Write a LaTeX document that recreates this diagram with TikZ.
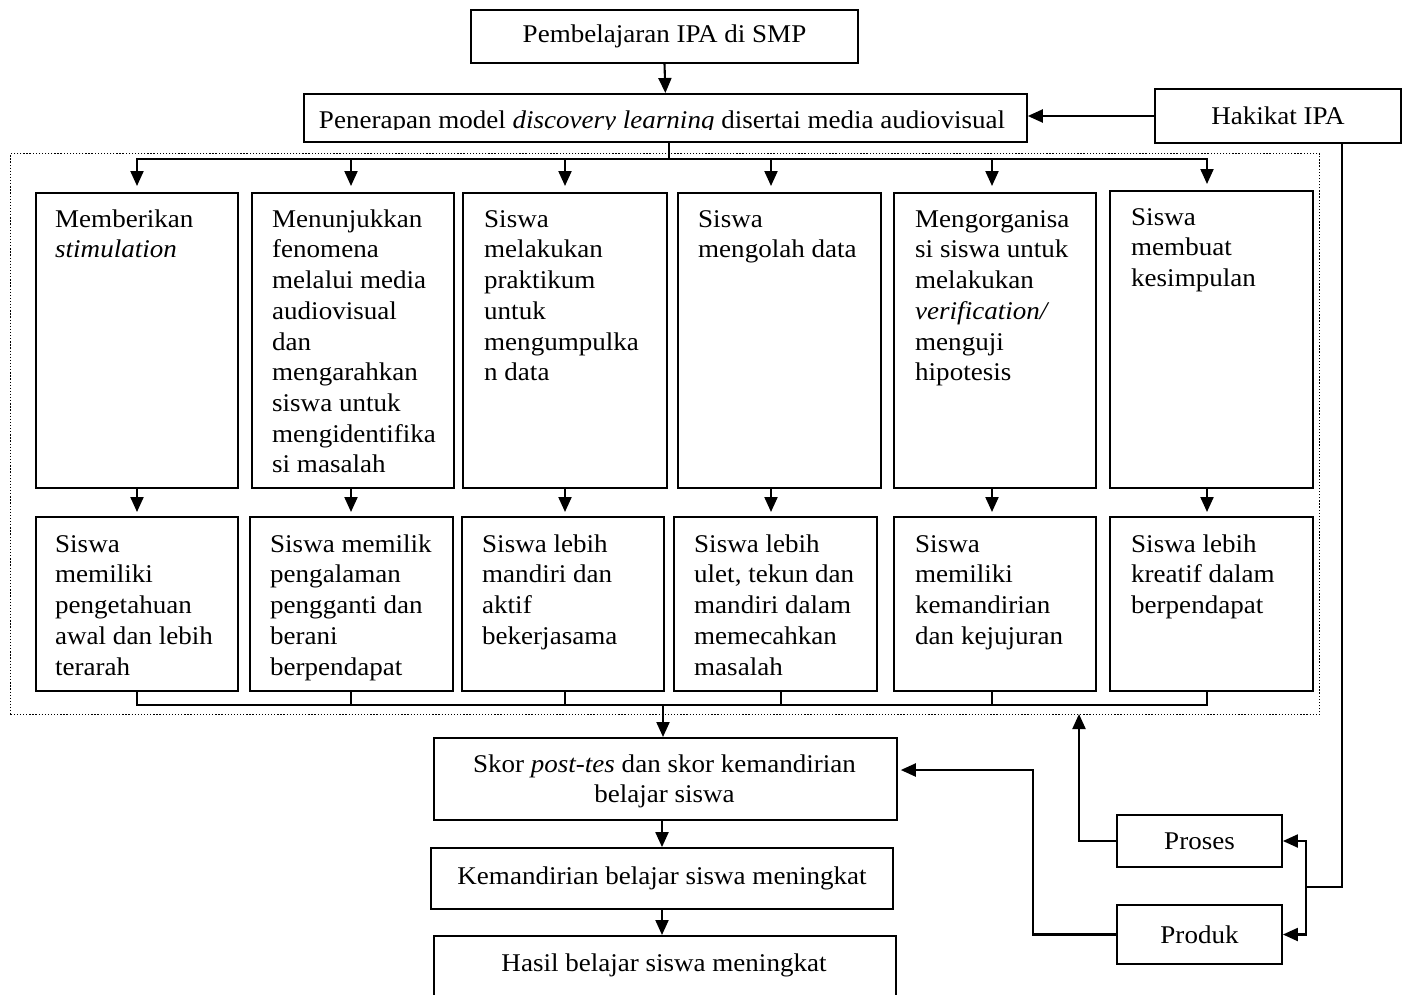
\documentclass[tikz,border=0pt]{standalone}
\usepackage{fontspec}
\setmainfont{Liberation Serif}[FakeStretch=1.06]
\usetikzlibrary{arrows.meta}
\newcommand\diagfont{\fontsize{25.5}{30.7}\selectfont}
\begin{document}
\begin{tikzpicture}[x=1pt,y=-1pt,
  box/.style={draw, line width=1.8pt, inner sep=0pt, anchor=north west},
  cbox/.style={draw, line width=1.8pt, inner sep=0pt, anchor=center, font=\diagfont, align=center},
  txt/.style={font=\diagfont, align=left, inner sep=0pt, anchor=north west},
  ln/.style={line width=2.1pt, line cap=rect},
  arr/.style={line width=2.1pt, -{Triangle[length=15pt,width=13pt]}},
  dotbox/.style={draw, line width=1.3pt, dash pattern=on 1.3pt off 1.8pt, inner sep=0pt, anchor=north west}]
\clip (0,0) rectangle (1407,994);
\fill[white] (0,0) rectangle (1407,994);

% top boxes
\node[cbox, minimum width=387, minimum height=53] (top) at (664.5,36.5) {Pembelajaran IPA di SMP};
\node[box, minimum width=723, minimum height=48] (pen) at (303,93) {};
\begin{scope}
  \clip (303,93) rectangle (1026,129.5);
  \node[font=\diagfont, inner sep=0pt, anchor=base] (pentext) at (662,128)
    {Penerapan model \textit{discovery learning} disertai media audiovisual};
\end{scope}
\node[cbox, minimum width=246, minimum height=54] (hak) at (1278,116) {Hakikat IPA};

\draw[arr] (top.south) -- (pen.north);
\draw[arr] (hak.west) -- (hak.west -| pen.east);

% dotted group
\node[dotbox, minimum width=1309, minimum height=561] (grp) at (10,153) {};

% top row
\node[box, minimum width=202, minimum height=295] (t1) at (35,192) {};
\node[box, minimum width=202, minimum height=295] (t2) at (251,192) {};
\node[box, minimum width=204, minimum height=295] (t3) at (462,192) {};
\node[box, minimum width=203, minimum height=295] (t4) at (677,192) {};
\node[box, minimum width=202, minimum height=295] (t5) at (893,192) {};
\node[box, minimum width=203, minimum height=297] (t6) at (1109,190) {};

\node[txt] (t1x) at ([shift={(20,15)}]t1.north west) {\rule{0pt}{20pt}Memberikan\\\textit{stimulation}};
\node[txt] (t2x) at ([shift={(21,15)}]t2.north west) {\rule{0pt}{20pt}Menunjukkan\\fenomena\\melalui media\\audiovisual\\dan\\mengarahkan\\siswa untuk\\mengidentifika\\si masalah};
\node[txt] (t3x) at ([shift={(22,15)}]t3.north west) {\rule{0pt}{20pt}Siswa\\melakukan\\praktikum\\untuk\\mengumpulka\\n data};
\node[txt] (t4x) at ([shift={(21,15)}]t4.north west) {\rule{0pt}{20pt}Siswa\\mengolah data};
\node[txt] (t5x) at ([shift={(22,15)}]t5.north west) {\rule{0pt}{20pt}Mengorganisa\\si siswa untuk\\melakukan\\\textit{verification/}\\menguji\\hipotesis};
\node[txt] (t6x) at ([shift={(22,15)}]t6.north west) {\rule{0pt}{20pt}Siswa\\membuat\\kesimpulan};

% bottom row
\node[box, minimum width=202, minimum height=174] (b1) at (35,516) {};
\node[box, minimum width=203, minimum height=174] (b2) at (249,516) {};
\node[box, minimum width=202, minimum height=174] (b3) at (461,516) {};
\node[box, minimum width=203, minimum height=174] (b4) at (673,516) {};
\node[box, minimum width=202, minimum height=174] (b5) at (893,516) {};
\node[box, minimum width=203, minimum height=174] (b6) at (1109,516) {};

\node[txt] (b1x) at ([shift={(20,16)}]b1.north west) {\rule{0pt}{20pt}Siswa\\memiliki\\pengetahuan\\awal dan lebih\\terarah};
\node[txt] (b2x) at ([shift={(21,16)}]b2.north west) {\rule{0pt}{20pt}Siswa memilik\\pengalaman\\pengganti dan\\berani\\berpendapat};
\node[txt] (b3x) at ([shift={(21,16)}]b3.north west) {\rule{0pt}{20pt}Siswa lebih\\mandiri dan\\aktif\\bekerjasama};
\node[txt] (b4x) at ([shift={(21,16)}]b4.north west) {\rule{0pt}{20pt}Siswa lebih\\ulet, tekun dan\\mandiri dalam\\memecahkan\\masalah};
\node[txt] (b5x) at ([shift={(22,16)}]b5.north west) {\rule{0pt}{20pt}Siswa\\memiliki\\kemandirian\\dan kejujuran};
\node[txt] (b6x) at ([shift={(22,16)}]b6.north west) {\rule{0pt}{20pt}Siswa lebih\\kreatif dalam\\berpendapat};

% distribution line
\coordinate (dj) at (669,159);
\coordinate (d1) at (137,159);
\coordinate (d2) at (351,159);
\coordinate (d3) at (565,159);
\coordinate (d4) at (771,159);
\coordinate (d5) at (992,159);
\coordinate (d6) at (1207,159);
\draw[ln] (pen.south -| dj) -- (dj);
\draw[ln] (d1) -- (d6);
\foreach \i in {1,...,6} {
  \draw[arr, shorten >=6pt] (d\i) -- (d\i |- t\i.north);
  \draw[arr, shorten >=4pt] (t\i.south -| d\i) -- (b\i.north -| d\i);
}

% collector line
\coordinate (e1) at (137,705);
\coordinate (e2) at (351,705);
\coordinate (e3) at (565,705);
\coordinate (e4) at (781,705);
\coordinate (e5) at (992,705);
\coordinate (e6) at (1207,705);
\coordinate (ej) at (663,705);
\foreach \i in {1,...,6} {
  \draw[ln] (b\i.south -| e\i) -- (e\i);
}
\draw[ln] (e1) -- (e6);

% lower chain
\node[box, minimum width=463, minimum height=82] (sk) at (433,737) {};
\node[font=\diagfont, align=center, inner sep=0pt, anchor=north] (sktext) at (664.5,752)
  {\rule{0pt}{20pt}Skor \textit{post-tes} dan skor kemandirian\\belajar siswa};
\node[cbox, minimum width=462, minimum height=61] (kem) at (662,878.5) {Kemandirian belajar siswa meningkat};
\node[box, minimum width=462, minimum height=80] (has) at (433,935) {};
\node[font=\diagfont, inner sep=0pt, anchor=base] (hastext) at (664,971) {Hasil belajar siswa meningkat};

\draw[arr] (ej) -- (ej |- sk.north);
\draw[arr] (sk.south -| kem.north) -- (kem.north);
\draw[arr] (kem.south) -- (kem.south |- has.north);

% Proses / Produk
\node[cbox, minimum width=165, minimum height=52] (pro) at (1199.5,841) {Proses};
\node[cbox, minimum width=165, minimum height=59] (prd) at (1199.5,934.5) {Produk};

\coordinate (hk) at (1342,887);
\coordinate (hj) at (1306,887);
\draw[ln] (hak.south -| hk) -- (hk) -- (hj);
\draw[arr] (hj) |- (pro.east);
\draw[arr] (hj) |- (prd.east);

\coordinate (pg) at (1079,714);
\draw[arr] (pro.west) -| (pg);
\coordinate (pk) at (1033,770);
\draw[arr, shorten >=3pt] (prd.west) -| (pk) -- (pk -| sk.east);
\end{tikzpicture}
\end{document}
